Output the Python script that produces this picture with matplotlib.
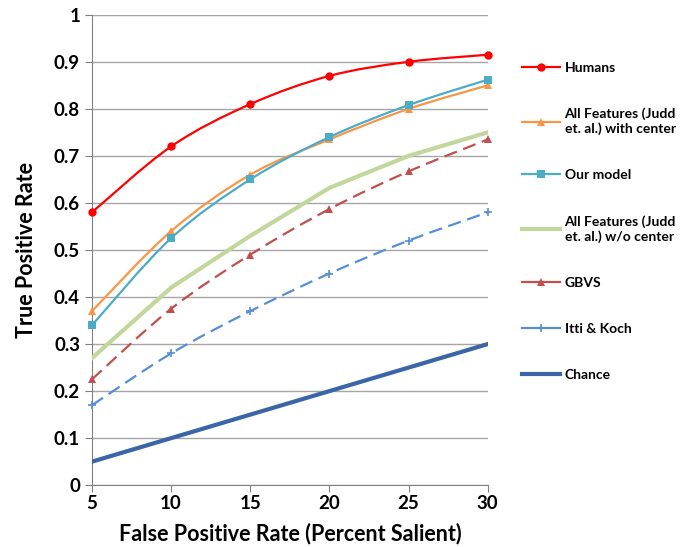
import matplotlib.pyplot as plt
from matplotlib.path import Path
from matplotlib.patches import PathPatch
from matplotlib.lines import Line2D

plt.rcParams['font.family'] = ['Lato', 'DejaVu Sans']
plt.rcParams['font.weight'] = 'bold'
plt.rcParams['axes.labelweight'] = 'bold'

fpr = [5, 10, 15, 20, 25, 30]
humans = [0.58, 0.72, 0.81, 0.87, 0.90, 0.915]
judd_center = [0.37, 0.54, 0.66, 0.735, 0.80, 0.85]
our_model = [0.34, 0.525, 0.65, 0.74, 0.808, 0.862]
judd_nocenter = [0.27, 0.42, 0.53, 0.632, 0.70, 0.75]
gbvs = [0.225, 0.375, 0.49, 0.587, 0.667, 0.735]
itti = [0.17, 0.28, 0.37, 0.45, 0.52, 0.58]
chance = [0.05, 0.10, 0.15, 0.20, 0.25, 0.30]


def smooth_path(x, y):
    # excel-like smoothed line: cubic bezier through each point
    verts = [(x[0], y[0])]
    codes = [Path.MOVETO]
    n = len(x)
    for i in range(n - 1):
        x0, y0 = (x[i - 1], y[i - 1]) if i > 0 else (x[i], y[i])
        x3, y3 = (x[i + 2], y[i + 2]) if i + 2 < n else (x[i + 1], y[i + 1])
        c1 = (x[i] + (x[i + 1] - x0) / 6, y[i] + (y[i + 1] - y0) / 6)
        c2 = (x[i + 1] - (x3 - x[i]) / 6, y[i + 1] - (y3 - y[i]) / 6)
        verts += [c1, c2, (x[i + 1], y[i + 1])]
        codes += [Path.CURVE4] * 3
    return Path(verts, codes)


fig = plt.figure(figsize=(6.86, 5.47), dpi=100)
ax = fig.add_axes([0.134, 0.113, 0.577, 0.860])

series = [
    ('Humans', humans, '#FF0000', 1.6, '-', 'o', 6, True),
    ('All Features (Judd\net. al.) with center', judd_center, '#F79646', 1.6, '-', '^', 6, True),
    ('Our model', our_model, '#4BACC6', 1.6, '-', 's', 6, True),
    ('All Features (Judd\net. al.) w/o center', judd_nocenter, '#C3D69B', 3.0, '-', None, 0, False),
    ('GBVS', gbvs, '#C0504D', 1.6, (0, (6, 3)), '^', 6, True),
    ('Itti & Koch', itti, '#558ED5', 1.6, (0, (6, 3)), '+', 6, True),
    ('Chance', chance, '#3A66A7', 3.0, '-', None, 0, False),
]

handles = []
for label, vals, col, lw, ls, mk, ms, smooth in series:
    if smooth:
        ax.add_patch(PathPatch(smooth_path(fpr, vals), fill=False, edgecolor=col,
                               lw=lw, linestyle=ls, zorder=3))
    else:
        ax.plot(fpr, vals, color=col, lw=lw, ls=ls, zorder=3)
    if mk:
        ax.plot(fpr, vals, ls='none', marker=mk, ms=ms, color=col,
                mew=1.2 if mk == '+' else 0, zorder=4, clip_on=False)
    handles.append(Line2D([], [], color=col, lw=lw, ls='-', marker=mk, ms=ms,
                          mew=1.2 if mk == '+' else 0, label=label))

ax.set_xlim(5, 30)
ax.set_ylim(0, 1)
ax.set_xticks(fpr)
ax.set_yticks([0, 0.1, 0.2, 0.3, 0.4, 0.5, 0.6, 0.7, 0.8, 0.9, 1])
ax.set_yticklabels(['0', '0.1', '0.2', '0.3', '0.4', '0.5', '0.6', '0.7', '0.8', '0.9', '1'])
for t in ax.get_xticklabels() + ax.get_yticklabels():
    t.set_fontweight('bold')
ax.grid(axis='y', color='#A6A6A6', lw=1)
ax.set_axisbelow(True)
for s in ['top', 'right']:
    ax.spines[s].set_visible(False)
for s in ['left', 'bottom']:
    ax.spines[s].set_color('#808080')
ax.tick_params(axis='both', colors='#808080', labelcolor='black', labelsize=13.5,
               length=5, direction='out')
ax.tick_params(axis='x', pad=2)
ax.set_xlabel('False Positive Rate (Percent Salient)', fontsize=15.5, labelpad=8)
ax.set_ylabel('True Positive Rate', fontsize=15.5, labelpad=12)

fig.legend(handles=handles, loc='upper left', bbox_to_anchor=(0.742, 0.91),
           frameon=False, fontsize=10, handlelength=2.8, labelspacing=2.45,
           handletextpad=0.3, prop={'weight': 'bold', 'size': 10})

fig.savefig('out.png', dpi=100)
